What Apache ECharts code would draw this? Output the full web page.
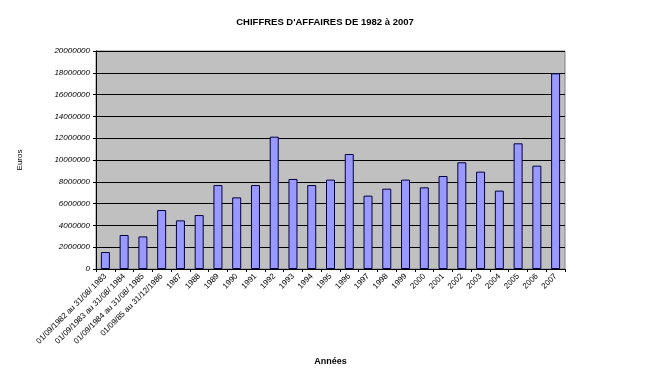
<!DOCTYPE html>
<html>
<head>
<meta charset="utf-8">
<script src="https://cdn.jsdelivr.net/npm/echarts@6/dist/echarts.min.js"></script>
<style>html,body{margin:0;padding:0;background:#fff}#c{width:650px;height:390px}</style>
</head>
<body>
<div id="c"></div>
<script>
const categories = ["01/09/1982 au 31/08/ 1983","01/09/1983 au 31/08/ 1984","01/09/1984 au 31/08/ 1985","01/09/85 au 31/12/1986","1987","1988","1989","1990","1991","1992","1993","1994","1995","1996","1997","1998","1999","2000","2001","2002","2003","2004","2005","2006","2007"];
const values = [1560000,3120000,2990000,5410000,4460000,4950000,7700000,6570000,7700000,12140000,8260000,7700000,8200000,10550000,6730000,7370000,8200000,7490000,8530000,9790000,8930000,7190000,11530000,9480000,17950000];
const titleText = "CHIFFRES D'AFFAIRES DE 1982 à 2007";
const yName = "Euros";
const xName = "Années";

const chart = echarts.init(document.getElementById('c'));
chart.setOption({
  animation: false,
  backgroundColor: '#fff',
  textStyle: { fontFamily: 'Liberation Sans, Arial, sans-serif' },
  title: {
    text: titleText, left: 'center', top: 12,
    textStyle: { fontSize: 9.5, fontWeight: 'bold', color: '#000', fontFamily: 'Liberation Sans Narrow, Liberation Sans, Arial' }
  },
  grid: { left: 96, right: 85, top: 51, bottom: 121, show: true, backgroundColor: '#C0C0C0', borderColor: '#808080', borderWidth: 1 },
  xAxis: {
    type: 'category', data: categories,
    name: xName, nameLocation: 'middle', nameGap: 88,
    nameTextStyle: { fontSize: 9, fontWeight: 'bold', color: '#000' },
    axisLine: { lineStyle: { color: '#000' } },
    axisTick: { show: true, alignWithLabel: false, length: 3, lineStyle: { color: '#000' } },
    axisLabel: { rotate: 45, fontSize: 8, color: '#000', interval: 0, margin: 6 }
  },
  yAxis: {
    type: 'value', min: 0, max: 20000000, interval: 2000000,
    name: yName, nameLocation: 'middle', nameGap: 72, nameRotate: 90,
    nameTextStyle: { fontSize: 8, color: '#000' },
    axisLine: { show: true, lineStyle: { color: '#000' } },
    axisTick: { show: true, length: 3, lineStyle: { color: '#000' } },
    axisLabel: { fontSize: 8, fontStyle: 'italic', color: '#000', margin: 6, formatter: v => String(v) },
    splitLine: { lineStyle: { color: '#000', width: 1 } }
  },
  series: [{
    type: 'bar', data: values, barWidth: 9,
    itemStyle: { color: '#9999FF', borderColor: '#000040', borderWidth: 1 }
  }]
});
</script>
</body>
</html>
